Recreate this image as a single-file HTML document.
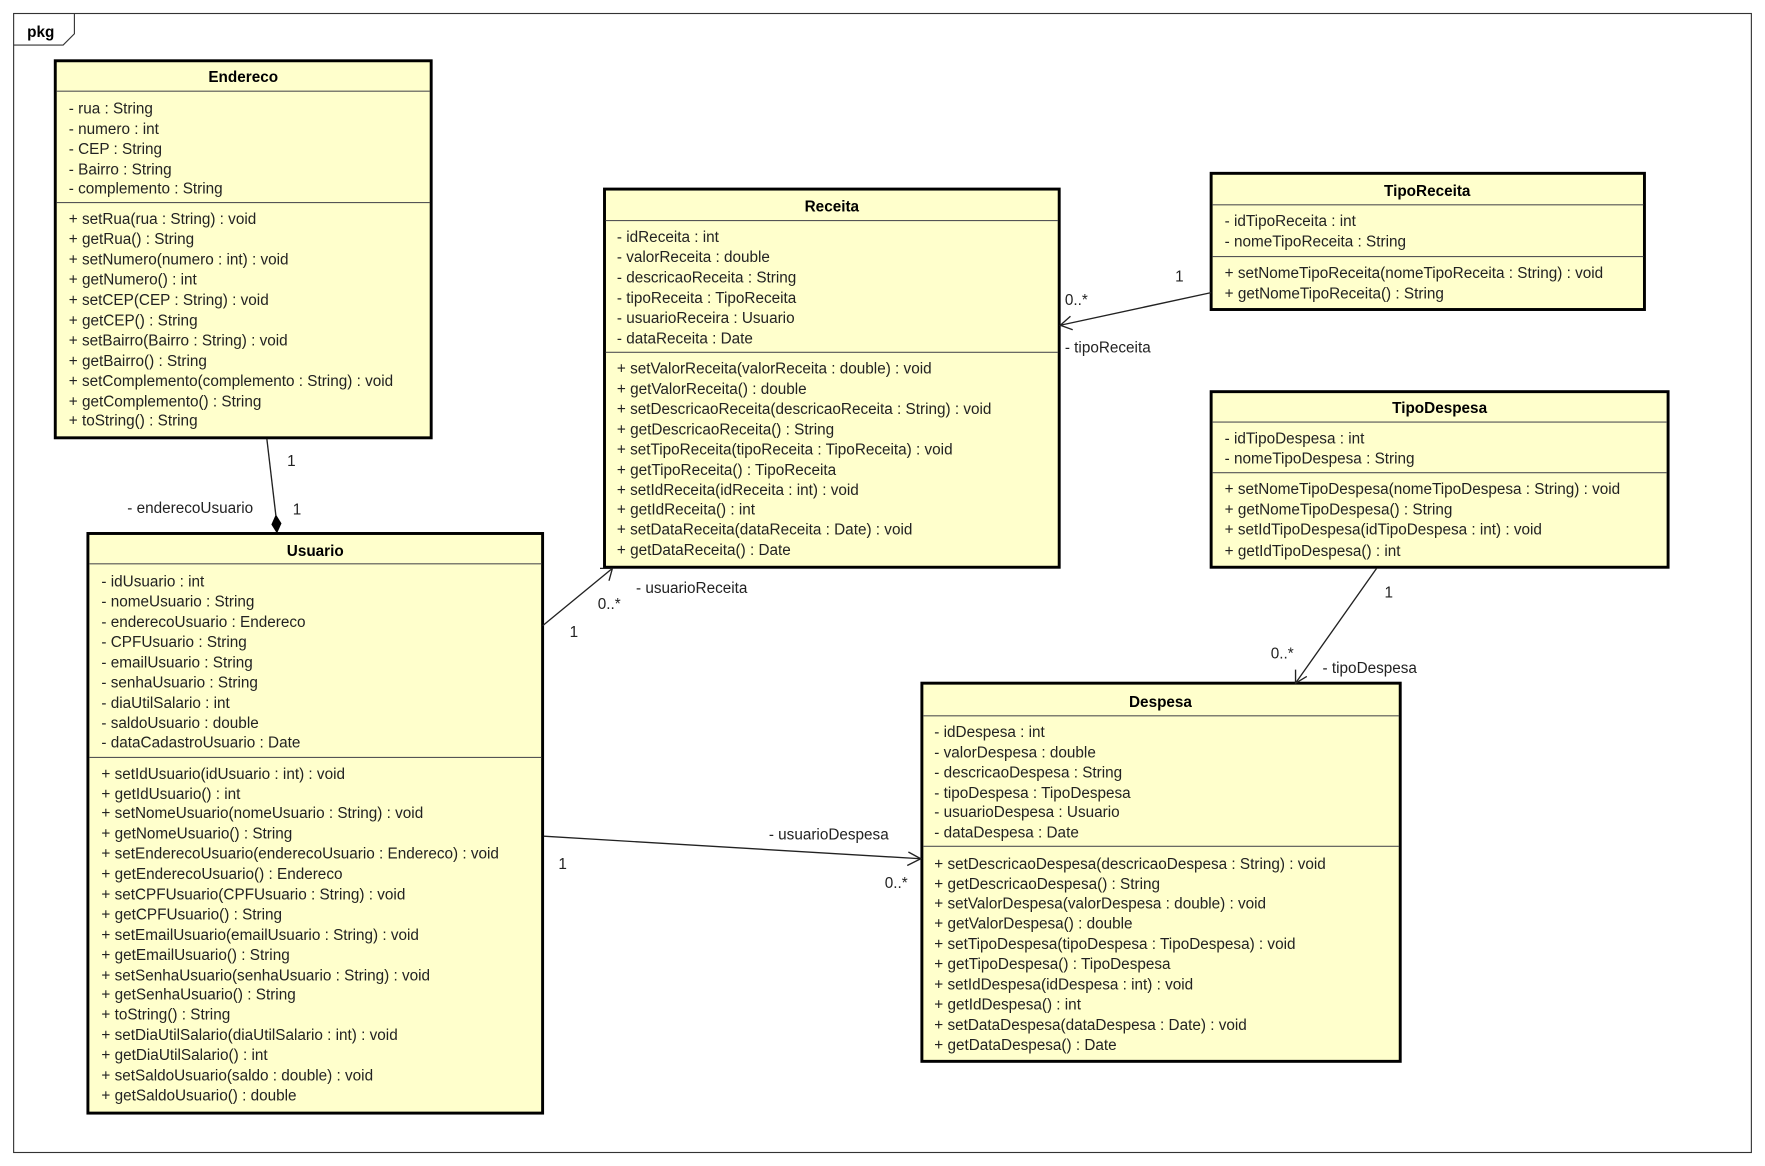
<!DOCTYPE html>
<html><head><meta charset="utf-8"><style>
html,body{margin:0;padding:0;background:#fff;}
svg{display:block;}
text{font-family:"Liberation Sans",Arial,sans-serif;font-size:13.6px;fill:#222;}
.t{font-weight:bold;text-anchor:middle;fill:#000;}
.b{fill:#ffffcc;stroke:#000;stroke-width:2.6;}
.s{stroke:#555;stroke-width:1;}
.l{stroke:#222;stroke-width:1.2;fill:none;}
</style></head><body>
<svg width="1765" height="1166" viewBox="0 0 1568 1036" xmlns="http://www.w3.org/2000/svg">
<rect x="12" y="12" width="1544" height="1012" fill="none" stroke="#333" stroke-width="1"/>
<path d="M12 40 H56 L66 30 V12" fill="none" stroke="#333" stroke-width="1"/>
<text x="24" y="33" style="font-weight:bold;fill:#000">pkg</text>

<!-- Endereco -->
<rect class="b" x="49" y="54" width="334" height="335"/>
<text class="t" x="216" y="73">Endereco</text>
<line class="s" x1="50" y1="81" x2="382" y2="81"/>
<line class="s" x1="50" y1="180" x2="382" y2="180"/>
<g transform="translate(61,0)">
<text y="101">- rua : String</text><text y="119">- numero : int</text><text y="137">- CEP : String</text><text y="155">- Bairro : String</text><text y="172">- complemento : String</text>
<text y="199">+ setRua(rua : String) : void</text><text y="217">+ getRua() : String</text><text y="235">+ setNumero(numero : int) : void</text><text y="253">+ getNumero() : int</text><text y="271">+ setCEP(CEP : String) : void</text><text y="289">+ getCEP() : String</text><text y="307">+ setBairro(Bairro : String) : void</text><text y="325">+ getBairro() : String</text><text y="343">+ setComplemento(complemento : String) : void</text><text y="361">+ getComplemento() : String</text><text y="378">+ toString() : String</text>
</g>

<!-- Receita -->
<rect class="b" x="537" y="168" width="404" height="336"/>
<text class="t" x="739" y="188">Receita</text>
<line class="s" x1="538" y1="196" x2="940" y2="196"/>
<line class="s" x1="538" y1="313" x2="940" y2="313"/>
<g transform="translate(548,0)">
<text y="215">- idReceita : int</text><text y="233">- valorReceita : double</text><text y="251">- descricaoReceita : String</text><text y="269">- tipoReceita : TipoReceita</text><text y="287">- usuarioReceira : Usuario</text><text y="305">- dataReceita : Date</text>
<text y="332">+ setValorReceita(valorReceita : double) : void</text><text y="350">+ getValorReceita() : double</text><text y="368">+ setDescricaoReceita(descricaoReceita : String) : void</text><text y="386">+ getDescricaoReceita() : String</text><text y="404">+ setTipoReceita(tipoReceita : TipoReceita) : void</text><text y="422">+ getTipoReceita() : TipoReceita</text><text y="440">+ setIdReceita(idReceita : int) : void</text><text y="457">+ getIdReceita() : int</text><text y="475">+ setDataReceita(dataReceita : Date) : void</text><text y="493">+ getDataReceita() : Date</text>
</g>

<!-- TipoReceita -->
<rect class="b" x="1076" y="154" width="385" height="121"/>
<text class="t" x="1268" y="174">TipoReceita</text>
<line class="s" x1="1077" y1="182" x2="1460" y2="182"/>
<line class="s" x1="1077" y1="228" x2="1460" y2="228"/>
<g transform="translate(1088,0)">
<text y="201">- idTipoReceita : int</text><text y="219">- nomeTipoReceita : String</text>
<text y="247">+ setNomeTipoReceita(nomeTipoReceita : String) : void</text><text y="265">+ getNomeTipoReceita() : String</text>
</g>

<!-- TipoDespesa -->
<rect class="b" x="1076" y="348" width="406" height="156"/>
<text class="t" x="1279" y="367">TipoDespesa</text>
<line class="s" x1="1077" y1="375" x2="1481" y2="375"/>
<line class="s" x1="1077" y1="420" x2="1481" y2="420"/>
<g transform="translate(1088,0)">
<text y="394">- idTipoDespesa : int</text><text y="412">- nomeTipoDespesa : String</text>
<text y="439">+ setNomeTipoDespesa(nomeTipoDespesa : String) : void</text><text y="457">+ getNomeTipoDespesa() : String</text><text y="475">+ setIdTipoDespesa(idTipoDespesa : int) : void</text><text y="494">+ getIdTipoDespesa() : int</text>
</g>

<!-- Usuario -->
<rect class="b" x="78" y="474" width="404" height="515"/>
<text class="t" x="280" y="494">Usuario</text>
<line class="s" x1="79" y1="501" x2="481" y2="501"/>
<line class="s" x1="79" y1="673" x2="481" y2="673"/>
<g transform="translate(90,0)">
<text y="521">- idUsuario : int</text><text y="539">- nomeUsuario : String</text><text y="557">- enderecoUsuario : Endereco</text><text y="575">- CPFUsuario : String</text><text y="593">- emailUsuario : String</text><text y="611">- senhaUsuario : String</text><text y="629">- diaUtilSalario : int</text><text y="647">- saldoUsuario : double</text><text y="664">- dataCadastroUsuario : Date</text>
<text y="692">+ setIdUsuario(idUsuario : int) : void</text><text y="710">+ getIdUsuario() : int</text><text y="727">+ setNomeUsuario(nomeUsuario : String) : void</text><text y="745">+ getNomeUsuario() : String</text><text y="763">+ setEnderecoUsuario(enderecoUsuario : Endereco) : void</text><text y="781">+ getEnderecoUsuario() : Endereco</text><text y="799">+ setCPFUsuario(CPFUsuario : String) : void</text><text y="817">+ getCPFUsuario() : String</text><text y="835">+ setEmailUsuario(emailUsuario : String) : void</text><text y="853">+ getEmailUsuario() : String</text><text y="871">+ setSenhaUsuario(senhaUsuario : String) : void</text><text y="888">+ getSenhaUsuario() : String</text><text y="906">+ toString() : String</text><text y="924">+ setDiaUtilSalario(diaUtilSalario : int) : void</text><text y="942">+ getDiaUtilSalario() : int</text><text y="960">+ setSaldoUsuario(saldo : double) : void</text><text y="978">+ getSaldoUsuario() : double</text>
</g>

<!-- Despesa -->
<rect class="b" x="819" y="607" width="425" height="336"/>
<text class="t" x="1031" y="628">Despesa</text>
<line class="s" x1="820" y1="636" x2="1243" y2="636"/>
<line class="s" x1="820" y1="752" x2="1243" y2="752"/>
<g transform="translate(830,0)">
<text y="655">- idDespesa : int</text><text y="673">- valorDespesa : double</text><text y="691">- descricaoDespesa : String</text><text y="709">- tipoDespesa : TipoDespesa</text><text y="726">- usuarioDespesa : Usuario</text><text y="744">- dataDespesa : Date</text>
<text y="772">+ setDescricaoDespesa(descricaoDespesa : String) : void</text><text y="790">+ getDescricaoDespesa() : String</text><text y="807">+ setValorDespesa(valorDespesa : double) : void</text><text y="825">+ getValorDespesa() : double</text><text y="843">+ setTipoDespesa(tipoDespesa : TipoDespesa) : void</text><text y="861">+ getTipoDespesa() : TipoDespesa</text><text y="879">+ setIdDespesa(idDespesa : int) : void</text><text y="897">+ getIdDespesa() : int</text><text y="915">+ setDataDespesa(dataDespesa : Date) : void</text><text y="933">+ getDataDespesa() : Date</text>
</g>

<!-- Connectors -->
<line class="l" x1="237" y1="390" x2="245" y2="458"/>
<path d="M245 457 L250 465 L246 474 L241 466 Z" fill="#000"/>
<text x="255" y="414">1</text><text x="260" y="457">1</text><text x="113" y="456">- enderecoUsuario</text>

<line class="l" x1="482" y1="556" x2="544" y2="505"/>
<path class="l" d="M533 505 L544 505 L541 516"/>
<text x="506" y="566">1</text><text x="531" y="541">0..*</text><text x="565" y="527">- usuarioReceita</text>

<line class="l" x1="1076" y1="260" x2="942" y2="289"/>
<path class="l" d="M951 281 L942 289 L953 293"/>
<text x="1044" y="250">1</text><text x="946" y="271">0..*</text><text x="946" y="313">- tipoReceita</text>

<line class="l" x1="1223" y1="505" x2="1151" y2="607"/>
<path class="l" d="M1151 595 L1151 607 L1161 601"/>
<text x="1230" y="531">1</text><text x="1129" y="585">0..*</text><text x="1175" y="598">- tipoDespesa</text>

<line class="l" x1="483" y1="743" x2="818" y2="763"/>
<path class="l" d="M807 757 L818 763 L806 769"/>
<text x="496" y="772">1</text><text x="786" y="789">0..*</text><text x="683" y="746">- usuarioDespesa</text>
</svg>
</body></html>
